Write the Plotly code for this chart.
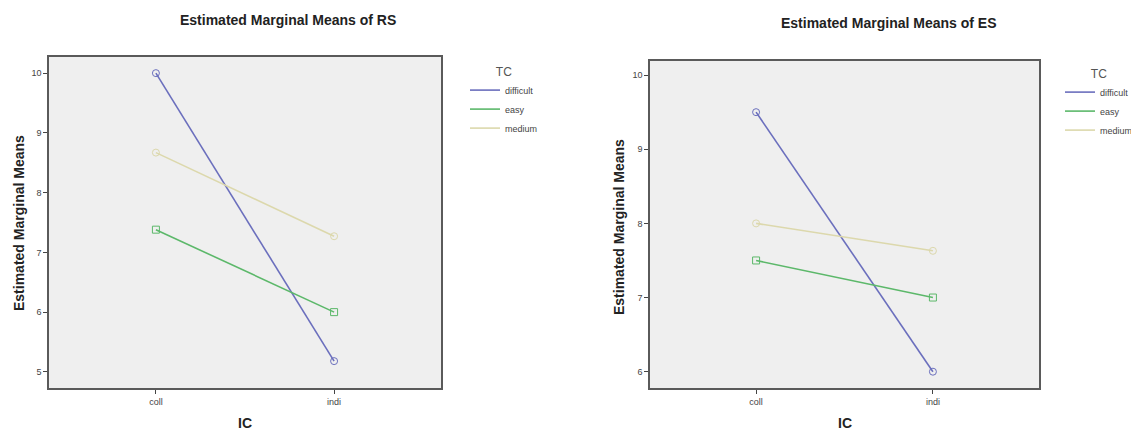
import plotly.graph_objects as go

categories = ["coll", "indi"]
groups = ["difficult", "easy", "medium"]

rs_difficult = [10.0, 5.18]
rs_easy = [7.38, 6.0]
rs_medium = [8.67, 7.27]

es_difficult = [9.5, 6.0]
es_easy = [7.5, 7.0]
es_medium = [8.0, 7.63]

rs_ticks = [5, 6, 7, 8, 9, 10]
es_ticks = [6, 7, 8, 9, 10]

colors = {"difficult": "#6b6fbd", "easy": "#5cb86a", "medium": "#dcd8ac"}
symbols = {"difficult": "circle-open", "easy": "square-open", "medium": "circle-open"}

# page is drawn with an 8px body margin; map page pixels to figure fractions
OFF = 8
FW, FH = 1139 - OFF, 432 - OFF

def px_x(v):
    return (v - OFF) / FW

def px_y(v):
    return 1 - (v - OFF) / FH

fig = go.Figure()

rs = {"difficult": rs_difficult, "easy": rs_easy, "medium": rs_medium}
es = {"difficult": es_difficult, "easy": es_easy, "medium": es_medium}

for data, xa, ya, lg in [(rs, "x", "y", "legend"), (es, "x2", "y2", "legend2")]:
    for g in groups:
        fig.add_trace(go.Scatter(
            x=categories, y=data[g], name=g, mode="lines",
            line=dict(color=colors[g], width=1.6),
            xaxis=xa, yaxis=ya, legend=lg, legendgroup=g))
    for g in groups:
        fig.add_trace(go.Scatter(
            x=categories, y=data[g], name=g, mode="markers", showlegend=False,
            marker=dict(symbol=symbols[g], size=7, color=colors[g], line=dict(width=1)),
            xaxis=xa, yaxis=ya, legend=lg, legendgroup=g))

axis_common = dict(
    showgrid=False, zeroline=False, showline=True, mirror=True,
    linecolor="#5a5a5a", linewidth=1.5, ticks="outside", ticklen=4,
    tickcolor="#444444", tickwidth=1,
    tickfont=dict(family="Arial, Liberation Sans, sans-serif", size=9, color="#444444"),
    automargin=False,
)

legend_common = dict(
    xanchor="left", yanchor="top",
    bgcolor="rgba(0,0,0,0)",
    title=dict(text="TC", font=dict(family="Arial, Liberation Sans, sans-serif", size=12, color="#555555"),
               side="top center"),
    font=dict(family="Arial, Liberation Sans, sans-serif", size=9, color="#444444"),
    tracegroupgap=0,
)

fig.update_layout(
    width=FW, height=FH,
    margin=dict(l=0, r=0, t=0, b=0),
    paper_bgcolor="white",
    plot_bgcolor="#efefef",
    xaxis=dict(domain=[px_x(49), px_x(441)], type="category", range=[-0.6, 1.6], anchor="y", **axis_common),
    yaxis=dict(domain=[px_y(388), px_y(57)], range=[4.73, 10.27], tickvals=rs_ticks, anchor="x", **axis_common),
    xaxis2=dict(domain=[px_x(650), px_x(1039)], type="category", range=[-0.6, 1.6], anchor="y2", **axis_common),
    yaxis2=dict(domain=[px_y(388), px_y(61)], range=[5.78, 10.19], tickvals=es_ticks, anchor="x2", **axis_common),
    legend=dict(x=px_x(465), y=px_y(60), **legend_common),
    legend2=dict(x=px_x(1060), y=px_y(62), **legend_common),
    showlegend=True,
)

bold = dict(family="Arial, Liberation Sans, sans-serif", size=14, color="#222222")
annotations = [
    dict(text="<b>Estimated Marginal Means of RS</b>", x=px_x(288), y=px_y(20)),
    dict(text="<b>Estimated Marginal Means of ES</b>", x=px_x(889), y=px_y(23)),
    dict(text="<b>Estimated Marginal Means</b>", x=px_x(19), y=px_y(223), textangle=-90),
    dict(text="<b>Estimated Marginal Means</b>", x=px_x(619), y=px_y(227), textangle=-90),
    dict(text="<b>IC</b>", x=px_x(245), y=px_y(423)),
    dict(text="<b>IC</b>", x=px_x(845), y=px_y(423)),
]
for a in annotations:
    a.update(xref="paper", yref="paper", showarrow=False, xanchor="center", yanchor="middle", font=bold)
fig.update_layout(annotations=annotations)

fig.write_html("out.html")
